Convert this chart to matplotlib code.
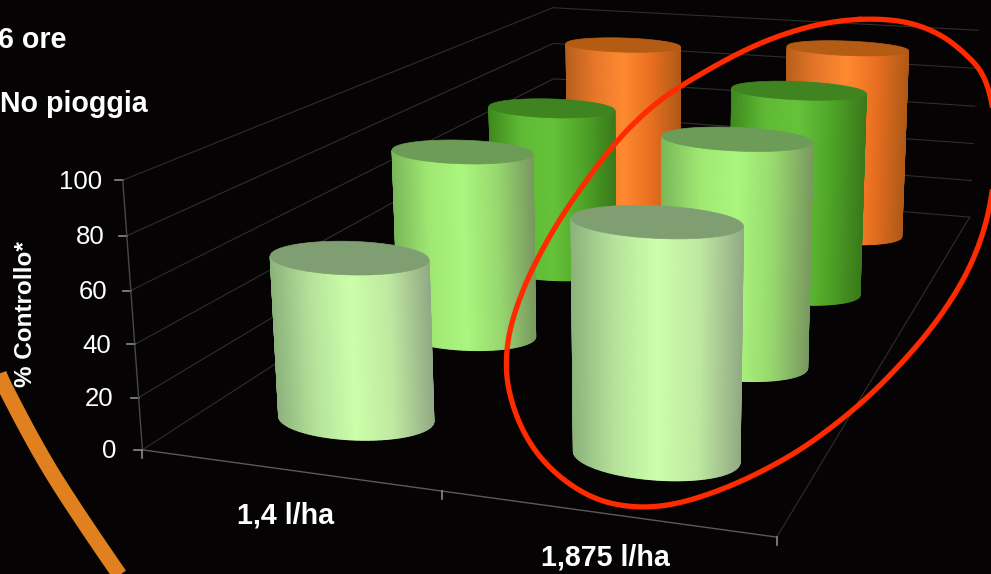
import numpy as np
import matplotlib
matplotlib.use("Agg")
import matplotlib.pyplot as plt
from matplotlib.colors import LinearSegmentedColormap

plt.rcParams['font.family'] = ['Liberation Sans', 'DejaVu Sans']

# Chart data
doses = ['1,4 l/ha', '1,875 l/ha']
z_ticks = [0, 20, 40, 60, 80, 100]
# one list per depth row, front row first, values for each dose
row_1 = [63, 87]
row_2 = [80, 94]
row_3 = [78, 94]
row_4 = [91, 96]
rows = [row_1, row_2, row_3, row_4]

side_colors = [
    ['#8db37c', '#b6e39c', '#ccffaa', '#bfe9a1', '#93ab85'],
    ['#7bb85a', '#a0e873', '#aaf77e', '#98d86f', '#7a9a60'],
    ['#3f8a1f', '#5fba35', '#66c23a', '#4fa528', '#3a7a1a'],
    ['#b8601c', '#e8772a', '#ff8a30', '#e86f20', '#b05a18'],
]
cap_colors = ['#7f9f72', '#6d9c58', '#3f8420', '#b55c14']

# Frame corners of the 3D box: (dose, depth, value) -> pixel position
frame_world = [(0, 0, 0), (0, 0, 100), (2, 0, 0), (2, 4, 0), (2, 4, 100), (0, 4, 0), (0, 4, 100)]
frame_pixels = [(140, 451), (125, 180), (777, 536), (968, 219), (980, 29), (558, 181), (550, 9)]

# Hand drawn annotation strokes
red_loop = [(863, 15), (913, 21), (940, 33), (967, 53), (983, 73), (991, 90), (1000, 150), (991, 223),
            (967, 280), (933, 327), (900, 367), (867, 398), (833, 428), (800, 450), (767, 470),
            (733, 485), (700, 498), (667, 507), (633, 509), (600, 502), (567, 487), (533, 453),
            (513, 417), (505, 373), (505, 345), (517, 300), (533, 267), (553, 230), (577, 190),
            (625, 130), (650, 105), (700, 73), (750, 47), (800, 25)]
orange_arc = [(-20, 330), (-6, 360), (6.5, 390), (52, 473), (119, 574), (150, 615)]

RX = 0.26
RY = 0.20
dose_centres = [0.5, 1.51]


def fit_camera():
    # Least squares fit of a 3x4 projection matrix with the last entry fixed to 1
    a, b = [], []
    for (x, y, z), (u, v) in zip(frame_world, frame_pixels):
        z = z / 100
        a.append([x, y, z, 1, 0, 0, 0, 0, -u * x, -u * y, -u * z])
        a.append([0, 0, 0, 0, x, y, z, 1, -v * x, -v * y, -v * z])
        b += [u, v]
    p = np.linalg.lstsq(np.array(a, float), np.array(b, float), rcond=None)[0]
    return np.append(p, 1).reshape(3, 4)


camera = fit_camera()


def project(x, y, z):
    x, y, z = np.broadcast_arrays(x, y, np.asarray(z, float) / 100)
    w = np.stack([x, y, z, np.ones_like(x)], axis=-1) @ camera.T
    return w[..., 0] / w[..., 2], w[..., 1] / w[..., 2]


def smooth(points, closed=False, steps=24):
    # Catmull-Rom through a list of points
    pts = np.array(points, float)
    n = len(pts)
    out = []
    for i in range(n if closed else n - 1):
        if closed:
            p0, p1, p2, p3 = pts[i - 1], pts[i], pts[(i + 1) % n], pts[(i + 2) % n]
        else:
            p0, p1, p2, p3 = pts[max(i - 1, 0)], pts[i], pts[i + 1], pts[min(i + 2, n - 1)]
        for t in np.linspace(0, 1, steps, endpoint=False):
            out.append(0.5 * (2 * p1 + (p2 - p0) * t + (2 * p0 - 5 * p1 + 4 * p2 - p3) * t ** 2
                              + (3 * p1 - p0 - 3 * p2 + p3) * t ** 3))
    out.append(out[0] if closed else pts[-1])
    return np.array(out)


def relax_loop(curve, window=61):
    # Circular moving average, takes the wobble out of the closed stroke
    body = curve[:-1]
    kernel = np.ones(window) / window
    wrapped = np.concatenate([body[-window:], body, body[:window]])
    out = np.column_stack([np.convolve(wrapped[:, k], kernel, mode='same') for k in (0, 1)])
    out = out[window:-window]
    return np.vstack([out, out[0]])


def draw_cylinder(ax, cx, cy, value, stops, cap_color, zorder):
    ring = np.linspace(0, 2 * np.pi, 360, endpoint=False)
    ux, uy = project(cx + RX * np.cos(ring), cy + RY * np.sin(ring), value)
    t0, t1 = ring[np.argmin(ux)], ring[np.argmax(ux)]
    if t1 < t0:
        t1 += 2 * np.pi
    theta = np.linspace(t0, t1, 90)
    heights = np.linspace(0, value, 10)
    tt, hh = np.meshgrid(theta, heights)
    xs, ys = project(cx + RX * np.cos(tt), cy + RY * np.sin(tt), hh)
    left, right = xs[:, 0:1], xs[:, -1:]
    shade = (xs - left) / (right - left)
    cmap = LinearSegmentedColormap.from_list('side', stops)
    ax.pcolormesh(xs, ys, shade, shading='gouraud', cmap=cmap, vmin=0, vmax=1, zorder=zorder, rasterized=True)
    ax.fill(ux, uy, color=cap_color, lw=0.5, zorder=zorder + 0.1)


def draw_frame(ax):
    grid = dict(color='#2e2e2e', lw=0.8, zorder=1)
    for z in z_ticks:
        xs, ys = project(np.array([0, 0, 2]), np.array([0, 4, 4]), z)
        ax.plot(xs, ys, **grid)
        tx, ty = project(0, 0, z)
        ax.plot([tx - 8, tx], [ty, ty], color='#8a8a8a', lw=1.2, zorder=2)
        ax.text(tx - 26 + z * 0.05, ty + 1.5, str(z), color='white', fontsize=18.5, ha='right', va='center')
    xs, ys = project(np.array([0, 2, 2]), np.array([0, 0, 4]), 0)
    ax.plot(xs[:2], ys[:2], color='#5a5a5a', lw=1.0, zorder=2)
    ax.plot(xs[1:], ys[1:], **grid)
    xs, ys = project(np.array([0, 0]), np.array([0, 0]), np.array([0, 100]))
    ax.plot(xs, ys, color='#484848', lw=1.0, zorder=2)
    for i in range(3):
        tx, ty = project(i, 0, 0)
        ax.plot([tx, tx], [ty, ty + 8], color='#8a8a8a', lw=1.2, zorder=2)


def main():
    fig = plt.figure(figsize=(9.91, 5.74), dpi=100, facecolor='#050303')
    ax = fig.add_axes([0, 0, 1, 1])
    ax.set_xlim(0, 991)
    ax.set_ylim(574, 0)
    ax.axis('off')

    draw_frame(ax)

    # Back rows first so the front cylinders cover them
    order = 10
    for j in reversed(range(len(rows))):
        for i, value in enumerate(rows[j]):
            draw_cylinder(ax, dose_centres[i], j + 0.5, value, side_colors[j], cap_colors[j], order)
            order += 1

    arc = smooth(orange_arc)
    ax.plot(arc[:, 0], arc[:, 1], color='#e0801f', lw=11, zorder=3, solid_capstyle='butt')
    loop = relax_loop(smooth(red_loop, closed=True))
    ax.plot(loop[:, 0], loop[:, 1], color='#ff2a00', lw=3.8, zorder=50)

    label = dict(color='white', fontsize=20.6, fontweight='bold')
    ax.text(67, 40, '6 ore', ha='right', va='center', **label)
    ax.text(148, 104, 'No pioggia', ha='right', va='center', **label)
    ax.text(26, 314, '% Controllo*', rotation=90, ha='center', va='center',
            color='white', fontsize=17.5, fontweight='bold')
    ax.text(286, 515, doses[0], ha='center', va='center', **label)
    ax.text(605, 558, doses[1], ha='center', va='center', **label)

    fig.savefig('out.png', dpi=100, facecolor=fig.get_facecolor())


if __name__ == "__main__":
    main()
